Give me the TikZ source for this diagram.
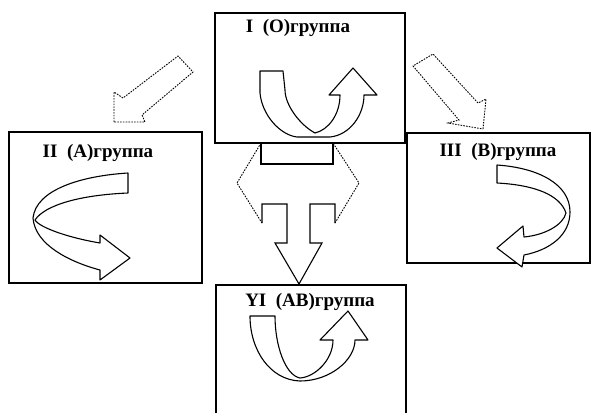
\documentclass[tikz,border=0pt]{standalone}
\usepackage{fontspec}
\setmainfont{Liberation Serif}
\begin{document}
\begin{tikzpicture}[x=1pt,y=-1pt,
  box/.style={draw=black,line width=1.3pt},
  ribbon/.style={draw=black,line width=1.1pt,line join=round,fill=white},
  dotline/.style={draw=black,line width=0.9pt,dash pattern=on 1.6pt off 1.2pt},
  solidline/.style={draw=black,line width=1.1pt},
  lab/.style={font=\bfseries\fontsize{19}{19}\selectfont,inner sep=0pt}]
\useasboundingbox (0,0) rectangle (595,413);
% boxes
\draw[box] (215,13) rectangle (405,143);
\draw[box] (9,132) rectangle (202,283);
\draw[box] (407,133) rectangle (590,263);
\draw[box] (216,413) -- (216,285) -- (406,285) -- (406,413);
% labels
\node[lab] (l1) at (298,28) {I \ (O)группа};
\node[lab] (l2) at (98,153) {II \ (A)группа};
\node[lab] (l3) at (498,152) {III \ (B)группа};
\node[lab] (l4) at (310,302) {YI \ (AB)группа};
% diagonal hollow arrows
\draw[dotline] (114,122) -- (114,92) -- (123,98) -- (178,56) -- (193,72) -- (142,115) -- (145,122) -- cycle;
\draw[dotline] (483,129) -- (486,99) -- (478,103) -- (433,54) -- (413,66) -- (459,120) -- (448,123) -- cycle;
% U arrow in box I
\draw[ribbon] (283,71) -- (260,71) -- (260,93) .. controls (262,115) and (280,135) .. (297,137)
  -- (330,137) .. controls (350,135) and (364,115) .. (364,95)
  -- (377,95) -- (353,68) -- (329,95) -- (340,95)
  .. controls (340,115) and (328,130) .. (315,133)
  .. controls (300,125) and (285,105) .. (285,90) -- cycle;
% U arrow in box VI
\draw[ribbon] (275,316) -- (250,316) .. controls (250,350) and (270,380) .. (300,381)
  .. controls (330,381) and (355,360) .. (355,340)
  -- (368,340) -- (348,311) -- (320,340) -- (333,340)
  .. controls (333,360) and (315,377) .. (300,378)
  .. controls (285,375) and (275,345) .. (275,316) -- cycle;
% C arrow in box II
\draw[ribbon] (128,193) -- (128,173) .. controls (80,176) and (36,190) .. (33,218)
  .. controls (35,245) and (70,262) .. (100,270)
  -- (100,280) -- (130,258) -- (100,235) -- (100,243)
  .. controls (70,238) and (40,228) .. (35,220)
  .. controls (45,205) and (80,195) .. (128,193) -- cycle;
% C arrow in box III
\draw[ribbon] (497,183) -- (497,165) .. controls (540,168) and (570,185) .. (570,212)
  .. controls (570,235) and (550,250) .. (524,255)
  -- (522,267) -- (497,248) -- (523,226) -- (524,237)
  .. controls (545,235) and (563,225) .. (566,213)
  .. controls (560,195) and (535,185) .. (497,183) -- cycle;
% central shape
\draw[solidline] (261,143) rectangle (333,164);
\draw[dotline] (261,143) -- (237,183) -- (262,223);
\draw[solidline] (262,223) -- (262,204) -- (287,204) -- (287,243) -- (275,243) -- (299,284)
  -- (322,243) -- (310,243) -- (310,204) -- (335,204) -- (335,223);
\draw[dotline] (335,223) -- (359,183) -- (333,143);
\end{tikzpicture}
\end{document}
